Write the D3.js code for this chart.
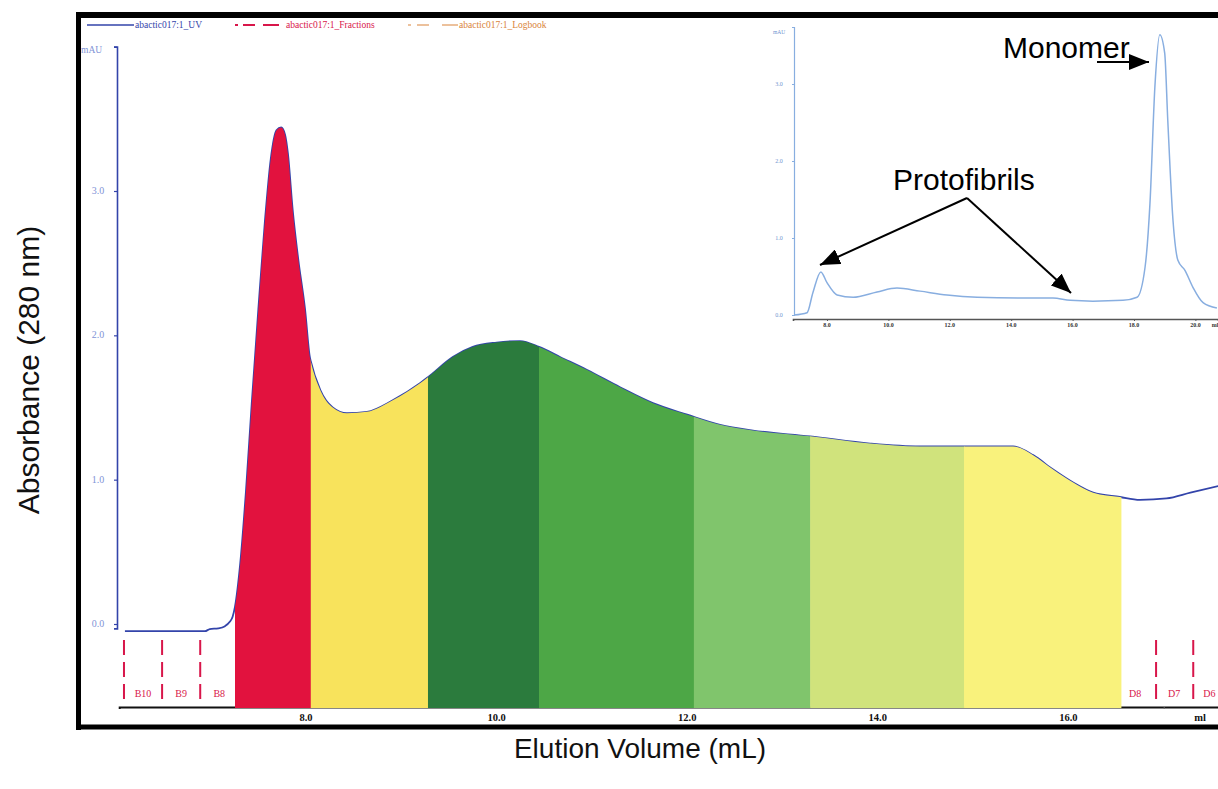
<!DOCTYPE html>
<html>
<head>
<meta charset="utf-8">
<script src="https://cdn.jsdelivr.net/npm/d3@7"></script>
<style>
  html, body { margin: 0; padding: 0; background: #fff; }
  svg { display: block; }
</style>
</head>
<body>
<svg id="chart" width="1218" height="789"></svg>
<script>
// ---------------- DATA ----------------
// Main chromatogram (elution volume in mL, absorbance)
const mainVolume = [6.10, 6.94, 6.99, 7.08, 7.15, 7.20, 7.23, 7.255, 7.31, 7.37, 7.43, 7.50, 7.57, 7.63, 7.69, 7.74, 7.78, 7.81, 7.86, 7.92, 7.99, 8.04, 8.05, 8.15, 8.28, 8.43, 8.64, 8.91, 9.20, 9.28, 9.54, 9.75, 10.00, 10.245, 10.445, 10.665, 10.95, 11.295, 11.64, 12.00, 12.345, 12.69, 13.29, 13.92, 14.44, 14.89, 15.42, 15.63, 15.84, 16.05, 16.26, 16.54, 16.75, 17.03, 17.28, 17.60];
const mainAbs    = [-0.05, -0.05, -0.035, -0.03, -0.015, 0.015, 0.05, 0.12, 0.42, 0.92, 1.52, 2.18, 2.80, 3.22, 3.42, 3.44, 3.39, 3.26, 2.87, 2.52, 2.18, 1.85, 1.82, 1.62, 1.50, 1.46, 1.47, 1.55, 1.67, 1.71, 1.85, 1.92, 1.95, 1.96, 1.92, 1.85, 1.76, 1.64, 1.53, 1.45, 1.38, 1.34, 1.30, 1.25, 1.23, 1.23, 1.23, 1.17, 1.07, 0.98, 0.91, 0.88, 0.86, 0.87, 0.91, 0.96];

// Pooled fraction bands (edges in mL)
const bandEdges = [7.255, 8.05, 9.28, 10.445, 12.07, 13.29, 14.905, 16.55];

// Collected fraction markers
const fractionLines  = [6.09, 6.49, 6.89, 16.92, 17.31];
const fractionLabels = ["B10", "B9", "B8", "D8", "D7", "D6"];
const fractionLabelPos = [6.29, 6.69, 7.09, 16.70, 17.11, 17.48];

// Tick labels
const mainXTicks = [8, 10, 12, 14, 16];
const mainYTicks = [0, 1, 2, 3];

// Inset chromatogram
const insetVolume = [6.93, 7.35, 7.54, 7.80, 8.00, 8.33, 8.85, 9.63, 10.28, 11.03, 11.91, 12.89, 14.29, 15.36, 15.92, 16.66, 17.64, 18.10, 18.36, 18.52, 18.68, 18.84, 19.00, 19.10, 19.27, 19.43, 19.66, 19.92, 20.25, 20.70];
const insetAbs    = [0.00, 0.03, 0.29, 0.56, 0.42, 0.26, 0.23, 0.30, 0.35, 0.31, 0.26, 0.23, 0.22, 0.22, 0.19, 0.18, 0.19, 0.23, 0.62, 1.45, 2.96, 3.64, 3.40, 2.53, 1.23, 0.71, 0.58, 0.36, 0.16, 0.09];
const insetXTicks = [8, 10, 12, 14, 16, 18, 20];
const insetYTicks = [0, 1, 2, 3];

// Legend
const legendNames = ["abactic017:1_UV", "abactic017:1_Fractions", "abactic017:1_Logbook"];

// ---------------- STYLE ----------------
const bandColors = ["#e2123e", "#f8e35c", "#2b7b3d", "#4da746", "#80c56c", "#d0e37c", "#f9f27c"];
const uvColor = "#3344aa";
const fracColor = "#d8164a";
const logColor = "#d9843a";
const insetColor = "#88aee0";

// ---------------- LAYOUT ----------------
const svg = d3.select("#chart");
const pxPerMl = 95.3;
const x = d3.scaleLinear().domain([8, 16]).range([306, 306 + 8 * pxPerMl]);
const y = d3.scaleLinear().domain([0, 3]).range([624, 191]);
const plotBottom = 707;

const mainData = mainVolume.map((v, i) => ({ v, a: mainAbs[i] }));

// Frame
const frame = svg.append("g").attr("stroke", "#000").attr("fill", "none");
frame.append("line").attr("x1", 76).attr("x2", 1218).attr("y1", 15).attr("y2", 15).attr("stroke-width", 6);
frame.append("line").attr("x1", 78.5).attr("x2", 78.5).attr("y1", 12).attr("y2", 730).attr("stroke-width", 5);
frame.append("line").attr("x1", 76).attr("x2", 1218).attr("y1", 727).attr("y2", 727).attr("stroke-width", 5);

// Bottom axis (black)
const xAxisScale = x.copy().domain([6.04, 17.7]).range([x(6.04), x(17.7)]);
const xAxisG = svg.append("g").attr("transform", `translate(0,${plotBottom})`)
  .call(d3.axisBottom(xAxisScale).tickValues([17]).tickSize(2).tickFormat(""));
xAxisG.select(".domain").attr("stroke", "#111").attr("stroke-width", 2);
xAxisG.selectAll(".tick line").attr("stroke", "#666");

// Y axis (blue)
const yAxisScale = y.copy().domain([-0.03, 4.0]).range([y(-0.03), y(4.0)]);
const yAxisG = svg.append("g").attr("transform", "translate(117,0)")
  .call(d3.axisLeft(yAxisScale).tickValues(mainYTicks.concat([4])).tickSize(3).tickFormat(""));
yAxisG.select(".domain").attr("stroke", uvColor).attr("stroke-width", 1.6);
yAxisG.selectAll(".tick line").attr("stroke", uvColor).attr("stroke-width", 1.2);

svg.append("g").selectAll("text").data(mainYTicks).join("text")
  .attr("x", 98).attr("y", d => y(d) + 3)
  .attr("text-anchor", "middle")
  .attr("font-family", "Liberation Serif").attr("font-size", 10)
  .attr("fill", "#7f93d6")
  .text(d => d.toFixed(1));
svg.append("text").attr("x", 81).attr("y", 53)
  .attr("font-family", "Liberation Serif").attr("font-size", 9.5)
  .attr("fill", "#7f93d6").text("mAU");

// UV line (under fills so that its edge peeks out)
const line = d3.line().x(d => x(d.v)).y(d => y(d.a)).curve(d3.curveMonotoneX);
svg.append("path").datum(mainData)
  .attr("d", line).attr("fill", "none")
  .attr("stroke", uvColor).attr("stroke-width", 1.8);

// Colored bands: area under curve clipped to each band
const area = d3.area().x(d => x(d.v)).y0(plotBottom + 1).y1(d => y(d.a)).curve(d3.curveMonotoneX);
const defs = svg.append("defs");
bandColors.forEach((c, i) => {
  const x0 = x(bandEdges[i]), x1 = x(bandEdges[i + 1]);
  defs.append("clipPath").attr("id", "band" + i)
    .append("rect").attr("x", x0).attr("y", 0).attr("width", x1 - x0 + 0.6).attr("height", 789);
  svg.append("path").datum(mainData)
    .attr("d", area).attr("fill", c)
    .attr("clip-path", `url(#band${i})`);
});

// X tick labels
svg.append("g").selectAll("text").data(mainXTicks).join("text")
  .attr("x", d => x(d)).attr("y", 721)
  .attr("text-anchor", "middle")
  .attr("font-family", "Liberation Serif").attr("font-size", 10.5).attr("font-weight", "bold")
  .attr("fill", "#111")
  .text(d => d.toFixed(1));
svg.append("text").attr("x", 1200).attr("y", 721).attr("text-anchor", "middle")
  .attr("font-family", "Liberation Serif").attr("font-size", 10.5).attr("font-weight", "bold")
  .attr("fill", "#111").text("ml");

// Fraction markers
svg.append("g").selectAll("line").data(fractionLines).join("line")
  .attr("x1", d => x(d)).attr("x2", d => x(d))
  .attr("y1", 640).attr("y2", 701)
  .attr("stroke", fracColor).attr("stroke-width", 2)
  .attr("stroke-dasharray", "15,7");
svg.append("g").selectAll("text").data(fractionLabels).join("text")
  .attr("x", (d, i) => x(fractionLabelPos[i])).attr("y", 697)
  .attr("text-anchor", "middle")
  .attr("font-family", "Liberation Serif").attr("font-size", 10)
  .attr("fill", fracColor)
  .text(d => d);

// Legend
const lg = svg.append("g");
lg.append("line").attr("x1", 87).attr("x2", 134).attr("y1", 25).attr("y2", 25)
  .attr("stroke", uvColor).attr("stroke-width", 1.6);
lg.append("line").attr("x1", 235).attr("x2", 285).attr("y1", 25).attr("y2", 25)
  .attr("stroke", fracColor).attr("stroke-width", 2).attr("stroke-dasharray", "3,5,12,8,16,6");
lg.append("line").attr("x1", 408).attr("x2", 458).attr("y1", 25).attr("y2", 25)
  .attr("stroke", logColor).attr("stroke-width", 1.2).attr("stroke-dasharray", "3,6,12,13,16");
[[135, uvColor], [286, fracColor], [459, logColor]].forEach((p, i) => {
  lg.append("text").attr("x", p[0]).attr("y", 28)
    .attr("font-family", "Liberation Serif").attr("font-size", 9.5)
    .attr("fill", p[1]).text(legendNames[i]);
});

// Axis titles
svg.append("text").attr("x", 640).attr("y", 758).attr("text-anchor", "middle")
  .attr("font-family", "Liberation Sans").attr("font-size", 28).attr("fill", "#111")
  .text("Elution Volume (mL)");
svg.append("text").attr("transform", "translate(39,370) rotate(-90)").attr("text-anchor", "middle")
  .attr("font-family", "Liberation Sans").attr("font-size", 30).attr("fill", "#111")
  .text("Absorbance (280 nm)");

// ---------------- INSET ----------------
const xi = d3.scaleLinear().domain([8, 10]).range([827, 888.4]);
const yi = d3.scaleLinear().domain([0, 1]).range([315, 238]);
const insetData = insetVolume.map((v, i) => ({ v, a: insetAbs[i] }));

const xiAxisScale = xi.copy().domain([xi.invert(793), xi.invert(1218)]).range([793, 1218]);
const xiG = svg.append("g").attr("transform", "translate(0,319)")
  .call(d3.axisBottom(xiAxisScale).tickValues(insetXTicks).tickSize(2).tickFormat(""));
xiG.select(".domain").attr("stroke", "#555").attr("stroke-width", 1.6);
xiG.selectAll(".tick line").attr("stroke", "#555");
svg.append("g").selectAll("text").data(insetXTicks).join("text")
  .attr("x", d => xi(d)).attr("y", 327).attr("text-anchor", "middle")
  .attr("font-family", "Liberation Serif").attr("font-size", 6).attr("font-weight", "bold")
  .attr("fill", "#333").text(d => d.toFixed(1));
svg.append("text").attr("x", 1215).attr("y", 327).attr("text-anchor", "middle")
  .attr("font-family", "Liberation Serif").attr("font-size", 6).attr("font-weight", "bold")
  .attr("fill", "#333").text("ml");

const yiAxisScale = yi.copy().domain([0, yi.invert(27)]).range([315, 27]);
const yiG = svg.append("g").attr("transform", "translate(794,0)")
  .call(d3.axisLeft(yiAxisScale).tickValues(insetYTicks).tickSize(2).tickFormat(""));
yiG.select(".domain").attr("stroke", insetColor).attr("stroke-width", 1.2);
yiG.selectAll(".tick line").attr("stroke", insetColor);
svg.append("g").selectAll("text").data(insetYTicks).join("text")
  .attr("x", 779).attr("y", d => yi(d) + 2).attr("text-anchor", "middle")
  .attr("font-family", "Liberation Serif").attr("font-size", 6)
  .attr("fill", "#6f94cf").text(d => d.toFixed(1));
svg.append("text").attr("x", 779).attr("y", 34).attr("text-anchor", "middle")
  .attr("font-family", "Liberation Serif").attr("font-size", 5.5)
  .attr("fill", "#6f94cf").text("mAU");

const iline = d3.line().x(d => xi(d.v)).y(d => yi(d.a)).curve(d3.curveMonotoneX);
svg.append("path").datum(insetData).attr("d", iline).attr("fill", "none")
  .attr("stroke", insetColor).attr("stroke-width", 1.5);

// Annotations
defs.append("marker").attr("id", "arrow")
  .attr("viewBox", "0 0 20 16").attr("refX", 20).attr("refY", 8)
  .attr("markerWidth", 20).attr("markerHeight", 16)
  .attr("markerUnits", "userSpaceOnUse").attr("orient", "auto")
  .append("path").attr("d", "M0,0 L20,8 L0,16 Z").attr("fill", "#000");

const ann = svg.append("g").attr("stroke", "#000").attr("stroke-width", 2).attr("fill", "none");
ann.append("line").attr("x1", 967).attr("y1", 198).attr("x2", 820).attr("y2", 265).attr("marker-end", "url(#arrow)");
ann.append("line").attr("x1", 967).attr("y1", 198).attr("x2", 1071).attr("y2", 293).attr("marker-end", "url(#arrow)");
ann.append("line").attr("x1", 1097).attr("y1", 62).attr("x2", 1149).attr("y2", 62).attr("marker-end", "url(#arrow)");

svg.append("text").attr("x", 893).attr("y", 190)
  .attr("font-family", "Liberation Sans").attr("font-size", 30).attr("fill", "#000")
  .text("Protofibrils");
svg.append("text").attr("x", 1003).attr("y", 58)
  .attr("font-family", "Liberation Sans").attr("font-size", 30).attr("fill", "#000")
  .text("Monomer");
</script>
</body>
</html>
